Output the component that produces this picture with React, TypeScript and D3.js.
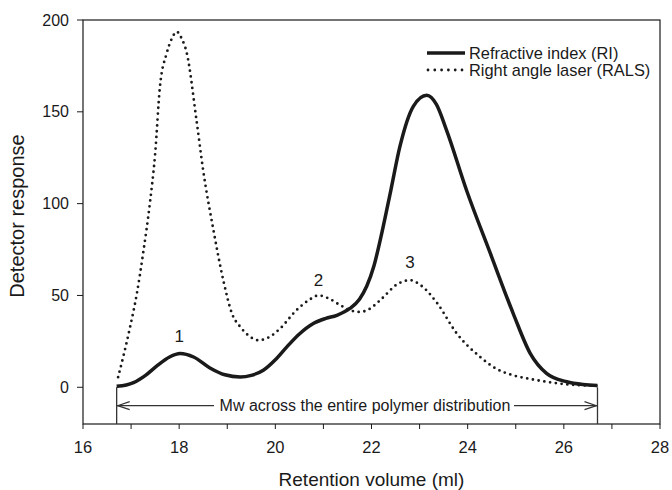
import React from 'react';
import * as d3 from 'd3';

// Refractive index (RI) trace
const riVolume = [16.7, 16.9, 17.05, 17.3, 17.53, 17.8, 18.02, 18.3, 18.64, 18.95, 19.27, 19.5, 19.75, 20.0, 20.24, 20.5, 20.79, 21.05, 21.28, 21.55, 21.75, 21.9, 22.05, 22.18, 22.4, 22.59, 22.87, 23.15, 23.35, 23.56, 23.98, 24.47, 24.95, 25.3, 25.64, 26.06, 26.4, 26.7];
const riResponse = [0.5, 1.2, 2.5, 6.5, 11.5, 16.5, 18.4, 16.5, 10.5, 6.8, 5.6, 6.5, 9.3, 15, 22, 29, 34.7, 37.5, 39.2, 42.9, 48, 55, 66, 80, 107, 131, 153, 159, 154, 140, 107, 73, 40, 18.5, 7.6, 3, 1.5, 1];

// Right angle laser (RALS) trace
const ralsVolume = [16.73, 16.85, 16.98, 17.12, 17.25, 17.39, 17.5, 17.6, 17.74, 17.85, 17.95, 18.05, 18.16, 18.36, 18.5, 18.71, 18.92, 19.1, 19.27, 19.45, 19.65, 19.85, 20.1, 20.44, 20.7, 20.9, 21.1, 21.35, 21.55, 21.76, 21.95, 22.18, 22.56, 22.8, 23.05, 23.36, 23.77, 24.26, 24.6, 24.95, 25.3, 25.64, 26.1, 26.7];
const ralsResponse = [5.5, 18, 32.9, 51, 72.9, 100, 127, 163.6, 181.8, 190, 193.6, 190, 181.8, 145.5, 118, 86, 58, 40, 32.9, 28, 25.6, 27, 32, 42, 47.5, 50, 48.5, 44.7, 42, 41, 42.5, 47.4, 56.5, 58.3, 55, 46, 29.4, 16.5, 10, 6.5, 4.5, 3, 1.5, 0.8];

const xTicks = [16, 18, 20, 22, 24, 26, 28];
const xMinorTicks = [17, 19, 21, 23, 25, 27];
const yTicks = [0, 50, 100, 150, 200];

// peak labels [volume, response, text]
const peakLabels: [number, number, string][] = [
  [18.0, 28, '1'],
  [20.9, 58.5, '2'],
  [22.8, 68, '3'],
];
const rangeStart = 16.7;
const rangeEnd = 26.7;
const rangeLabel = 'Mw across the entire polymer distribution';

const W = 672;
const H = 490;
const margin = { top: 20, right: 12, bottom: 66, left: 83 };
const font = 'Arial, "Liberation Sans", Helvetica, sans-serif';
const ink = '#1a1a1a';

export default function App() {
  const x = d3.scaleLinear().domain([16, 28]).range([margin.left, W - margin.right]);
  const y = d3.scaleLinear().domain([-20, 200]).range([H - margin.bottom, margin.top]);

  const line = d3
    .line<[number, number]>()
    .x(d => x(d[0]))
    .y(d => y(d[1]))
    .curve(d3.curveMonotoneX);

  const riPath = line(riVolume.map((v, i) => [v, riResponse[i]])) || '';
  const ralsPath = line(ralsVolume.map((v, i) => [v, ralsResponse[i]])) || '';

  const x0 = x.range()[0];
  const x1 = x.range()[1];
  const yb = y.range()[0];
  const yt = y.range()[1];

  const arrowY = y(-10);
  const aL = x(rangeStart);
  const aR = x(rangeEnd);
  const textL = 214;
  const textR = 514;

  return (
    <svg width={W} height={H} style={{ position: 'absolute', left: 0, top: 0, background: '#fff' }} fontFamily={font}>
      {/* frame */}
      <rect x={x0} y={yt} width={x1 - x0} height={yb - yt} fill="none" stroke={ink} strokeWidth={1.2} />

      {/* y ticks */}
      {yTicks.map(t => (
        <g key={'y' + t}>
          <line x1={x0 - 6} x2={x0} y1={y(t)} y2={y(t)} stroke={ink} strokeWidth={1} />
          <text x={x0 - 14} y={y(t) + 5.5} textAnchor="end" fontSize={16} fill={ink}>{t}</text>
        </g>
      ))}

      {/* x ticks */}
      {xTicks.map(t => (
        <g key={'x' + t}>
          <line x1={x(t)} x2={x(t)} y1={yb} y2={yb + 5} stroke={ink} strokeWidth={1} />
          <text x={x(t)} y={yb + 29} textAnchor="middle" fontSize={16.5} fill={ink}>{t}</text>
        </g>
      ))}
      {xMinorTicks.map(t => (
        <line key={'m' + t} x1={x(t)} x2={x(t)} y1={yb} y2={yb + 5} stroke={ink} strokeWidth={1} />
      ))}

      {/* axis titles */}
      <text x={(x0 + x1) / 2} y={486} textAnchor="middle" fontSize={19} fill={ink}>Retention volume (ml)</text>
      <text transform={`translate(24,${(yt + yb) / 2 - 6}) rotate(-90)`} textAnchor="middle" fontSize={20} fill={ink}>Detector response</text>

      {/* range bracket */}
      <line x1={aL} x2={aL} y1={y(0)} y2={yb} stroke="#333" strokeWidth={1.3} />
      <line x1={aR} x2={aR} y1={y(0)} y2={yb} stroke="#333" strokeWidth={1.3} />
      <line x1={aL} x2={textL} y1={arrowY} y2={arrowY} stroke="#333" strokeWidth={1.1} />
      <line x1={textR} x2={aR} y1={arrowY} y2={arrowY} stroke="#333" strokeWidth={1.1} />
      <polyline points={`${aL + 13},${arrowY - 4} ${aL + 1},${arrowY} ${aL + 13},${arrowY + 4}`} fill="none" stroke="#333" strokeWidth={1.1} />
      <polyline points={`${aR - 13},${arrowY - 4} ${aR - 1},${arrowY} ${aR - 13},${arrowY + 4}`} fill="none" stroke="#333" strokeWidth={1.1} />
      <text x={(textL + textR) / 2 + 1} y={arrowY + 5.5} textAnchor="middle" fontSize={16} fill={ink}>{rangeLabel}</text>

      {/* traces */}
      <path d={ralsPath} fill="none" stroke={ink} strokeWidth={2.8} strokeLinecap="round" strokeDasharray="0 5.8" />
      <path d={riPath} fill="none" stroke={ink} strokeWidth={3.5} strokeLinejoin="round" />

      {/* peak labels */}
      {peakLabels.map(([v, r, s]) => (
        <text key={s} x={x(v)} y={y(r) + 6} textAnchor="middle" fontSize={17} fill={ink}>{s}</text>
      ))}

      {/* legend */}
      <line x1={427} x2={465} y1={53} y2={53} stroke={ink} strokeWidth={3.5} />
      <text x={469} y={59} fontSize={16.4} fill={ink}>Refractive index (RI)</text>
      <line x1={428} x2={464} y1={70} y2={70} stroke={ink} strokeWidth={2.8} strokeLinecap="round" strokeDasharray="0 6.8" />
      <text x={469} y={76} fontSize={16.4} fill={ink}>Right angle laser (RALS)</text>
    </svg>
  );
}
